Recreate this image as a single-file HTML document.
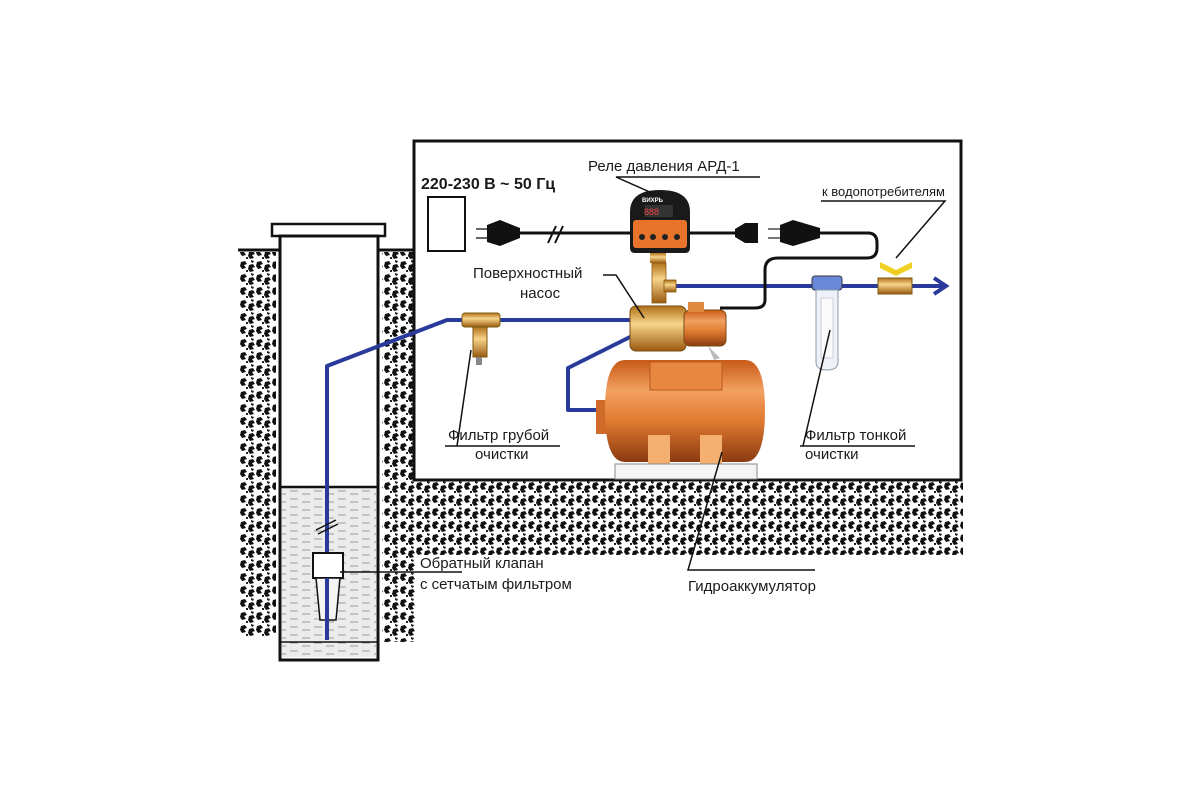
<!DOCTYPE html>
<html><head><meta charset="utf-8"><style>
html,body{margin:0;padding:0;background:#fff;}
svg{display:block;}
text{font-family:"Liberation Sans","DejaVu Sans",sans-serif;font-size:15px;fill:#1a1a1a;}
</style></head><body>
<svg width="1200" height="800" viewBox="0 0 1200 800" xmlns="http://www.w3.org/2000/svg">
<defs>
<pattern id="soil" width="16" height="13" patternUnits="userSpaceOnUse">
<rect width="16" height="13" fill="#fff"/>
<path d="M1 2 L5 1 L7 4 L4 5 L6 8 L2 9 L0 6 Z" fill="#111"/>
<path d="M9 5 L13 4 L15 7 L12 8 L14 11 L10 12 L8 9 Z" fill="#111"/>
<path d="M6 10 L8 10 L8 12 L6 12 Z" fill="#222"/>
<path d="M11 0 L14 1 L13 3 L11 2 Z" fill="#222"/>
</pattern>
<pattern id="water" width="24" height="8" patternUnits="userSpaceOnUse">
<rect width="24" height="8" fill="#ececec"/>
<path d="M2 3 H10 M14 6 H22" stroke="#9a9a9a" stroke-width="1"/>
</pattern>
<linearGradient id="org" x1="0" y1="0" x2="0" y2="1">
<stop offset="0" stop-color="#c85a18"/><stop offset="0.3" stop-color="#f2a060"/><stop offset="0.6" stop-color="#e07a30"/><stop offset="1" stop-color="#8a3a10"/>
</linearGradient>
<linearGradient id="brass" x1="0" y1="0" x2="0" y2="1">
<stop offset="0" stop-color="#b07018"/><stop offset="0.4" stop-color="#f7d48a"/><stop offset="1" stop-color="#9a5a10"/>
</linearGradient>
</defs>

<!-- soil -->
<rect x="240" y="252" width="36" height="385" fill="url(#soil)"/>
<rect x="382" y="252" width="33" height="390" fill="url(#soil)"/>
<rect x="415" y="480" width="548" height="75" fill="url(#soil)"/>
<line x1="238" y1="250" x2="415" y2="250" stroke="#111" stroke-width="3"/>

<!-- well -->
<rect x="272" y="224" width="113" height="12" fill="#fff" stroke="#111" stroke-width="2.5"/>
<rect x="280" y="236" width="98" height="424" fill="#fff" stroke="#111" stroke-width="3"/>
<rect x="282" y="487" width="94" height="170" fill="url(#water)"/>
<line x1="281" y1="487" x2="377" y2="487" stroke="#111" stroke-width="2.5"/>
<line x1="281" y1="642" x2="377" y2="642" stroke="#111" stroke-width="1.5"/>

<!-- house -->
<rect x="414" y="141" width="547" height="339" fill="#fff" stroke="#111" stroke-width="3"/>

<!-- blue pipes -->
<g fill="none" stroke="#2a3a9a" stroke-width="4" stroke-linejoin="round">
<polyline points="327,640 327,366 447,320 640,320"/>
<polyline points="632,336 568,368 568,410 600,410"/>
<polyline points="668,286 945,286"/>
</g>
<polyline points="934,278 946,286 934,294" fill="none" stroke="#2a3a9a" stroke-width="4"/>
<line x1="316" y1="530" x2="336" y2="520" stroke="#111" stroke-width="1.5"/>
<line x1="318" y1="534" x2="338" y2="524" stroke="#111" stroke-width="1.5"/>

<!-- check valve -->
<rect x="313" y="553" width="30" height="25" fill="#fff" stroke="#111" stroke-width="2"/>
<path d="M316 578 L340 578 L336 620 L320 620 Z" fill="#f4f4f4" stroke="#111" stroke-width="1.5"/>
<line x1="327" y1="578" x2="327" y2="640" stroke="#2a3a9a" stroke-width="4"/>

<!-- outlet -->
<rect x="428" y="197" width="37" height="54" fill="#fff" stroke="#111" stroke-width="2"/>

<!-- cables -->
<g fill="none" stroke="#111" stroke-width="3">
<line x1="520" y1="233" x2="630" y2="233"/>
<line x1="690" y1="233" x2="735" y2="233"/>
<path d="M820 233 H868 Q877 233 877 243 V248 Q877 258 867 258 H778 Q765 258 765 270 V300 Q765 308 755 308 H720"/>
</g>
<line x1="548" y1="243" x2="556" y2="226" stroke="#111" stroke-width="2"/>
<line x1="555" y1="243" x2="563" y2="226" stroke="#111" stroke-width="2"/>
<path d="M487 225 L500 220 L520 228 L520 238 L500 246 L487 242 Z" fill="#111"/>
<line x1="476" y1="229" x2="487" y2="229" stroke="#666" stroke-width="2"/>
<line x1="476" y1="238" x2="487" y2="238" stroke="#666" stroke-width="2"/>
<path d="M735 229 L745 223 L758 223 L758 243 L745 243 L735 237 Z" fill="#111"/>
<path d="M780 225 L793 220 L820 228 L820 238 L793 246 L780 242 Z" fill="#111"/>
<line x1="768" y1="229" x2="780" y2="229" stroke="#777" stroke-width="2"/>
<line x1="768" y1="238" x2="780" y2="238" stroke="#777" stroke-width="2"/>

<!-- relay -->
<path d="M630 248 V212 Q630 190 660 190 Q690 190 690 212 V248 Q690 253 685 253 H635 Q630 253 630 248 Z" fill="#1a1a1a"/>
<rect x="633" y="220" width="54" height="28" rx="3" fill="#e8742c"/>
<rect x="645" y="205" width="28" height="12" fill="#333"/>
<text x="644" y="215" style="font-size:9px;fill:#e44">888</text>
<text x="642" y="202" style="font-size:6px;fill:#fff;font-weight:bold">ВИХРЬ</text>
<circle cx="642" cy="237" r="3" fill="#222"/><circle cx="653" cy="237" r="3" fill="#222"/><circle cx="665" cy="237" r="3" fill="#222"/><circle cx="677" cy="237" r="3" fill="#222"/>
<rect x="650" y="253" width="16" height="10" fill="url(#brass)"/>
<rect x="652" y="263" width="14" height="40" fill="url(#brass)" stroke="#8a5a10" stroke-width="0.8"/>
<rect x="664" y="280" width="12" height="12" fill="url(#brass)" stroke="#8a5a10" stroke-width="0.8"/>

<!-- pump -->
<rect x="630" y="306" width="56" height="45" rx="6" fill="url(#brass)" stroke="#7a4a10"/>
<rect x="684" y="310" width="42" height="36" rx="6" fill="url(#org)" stroke="#7a4a10"/>
<rect x="688" y="302" width="16" height="10" fill="#e08a40"/>
<path d="M708 346 L720 358 L714 360 Z" fill="#bbb"/>

<!-- coarse filter -->
<rect x="462" y="313" width="38" height="14" rx="3" fill="url(#brass)" stroke="#7a5a10"/>
<rect x="473" y="327" width="14" height="30" fill="url(#brass)" stroke="#7a5a10"/>
<rect x="476" y="357" width="6" height="8" fill="#888"/>

<!-- fine filter -->
<rect x="812" y="276" width="30" height="14" rx="3" fill="#6a88d8" stroke="#334"/>
<path d="M816 290 H838 V362 Q838 370 827 370 Q816 370 816 362 Z" fill="#eef2f8" stroke="#8899aa"/>
<rect x="821" y="298" width="12" height="60" fill="#fafafa" stroke="#ccd"/>

<!-- valve -->
<rect x="878" y="278" width="34" height="16" fill="url(#brass)" stroke="#7a5a10"/>
<path d="M880 262 L896 270 L912 262 L912 268 L896 276 L880 268 Z" fill="#f0d020"/>

<!-- tank -->
<rect x="596" y="400" width="12" height="34" fill="#d06a28"/>
<path d="M625 360 H745 Q765 360 765 410 Q765 462 745 462 H625 Q605 462 605 410 Q605 360 625 360 Z" fill="url(#org)"/>
<rect x="650" y="362" width="72" height="28" fill="#e88840" stroke="#b85a20"/>
<rect x="648" y="435" width="22" height="30" fill="#f3b070"/>
<rect x="700" y="435" width="22" height="30" fill="#f3b070"/>
<rect x="615" y="464" width="142" height="15" fill="#f4f4f4" stroke="#888"/>

<!-- leaders -->
<g fill="none" stroke="#111" stroke-width="1.5">
<polyline points="760,177 616,177 652,193"/>
<polyline points="603,275 616,275 644,318"/>
<polyline points="821,201 945,201 896,258"/>
<polyline points="445,446 560,446"/>
<line x1="457" y1="446" x2="471" y2="350"/>
<polyline points="800,446 915,446"/>
<line x1="803" y1="446" x2="830" y2="330"/>
<polyline points="340,572 462,572"/>
<polyline points="815,570 688,570 722,452"/>
</g>

<!-- labels -->
<text x="421" y="189" style="font-weight:bold;font-size:16px">220-230 В ~ 50 Гц</text>
<text x="588" y="171">Реле давления АРД-1</text>
<text x="822" y="196" style="font-size:13px">к водопотребителям</text>
<text x="473" y="278">Поверхностный</text>
<text x="520" y="298">насос</text>
<text x="448" y="440">Фильтр грубой</text>
<text x="475" y="459">очистки</text>
<text x="805" y="440">Фильтр тонкой</text>
<text x="805" y="459">очистки</text>
<text x="420" y="568">Обратный клапан</text>
<text x="420" y="589">с сетчатым фильтром</text>
<text x="688" y="591">Гидроаккумулятор</text>
</svg>
</body></html>
